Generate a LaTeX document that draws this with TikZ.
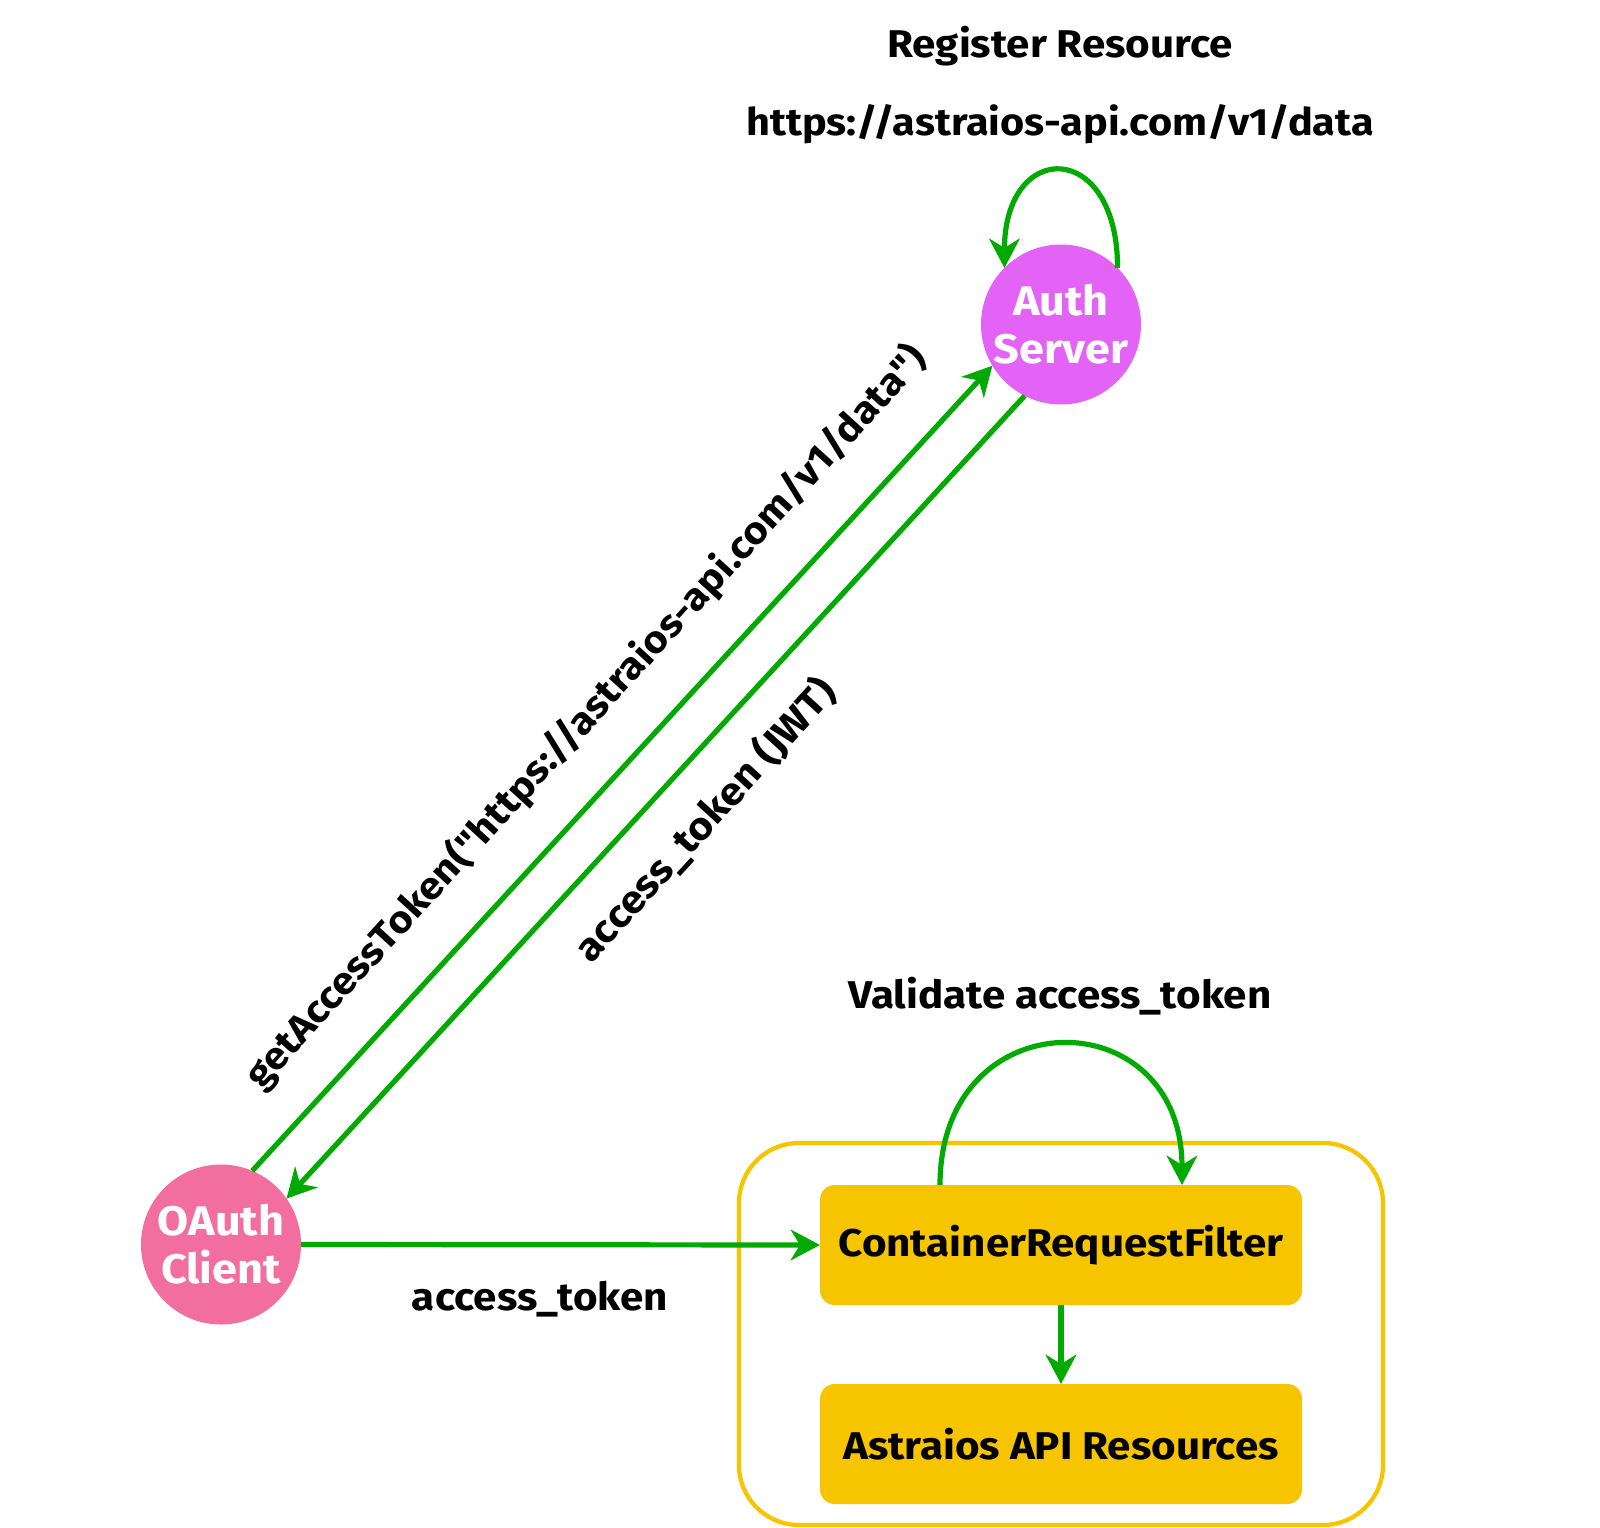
\documentclass[tikz,border=0pt]{standalone}
\usepackage{fontspec}
\newfontfamily\uf{Fira Sans}[FakeStretch=1.09]
\usetikzlibrary{arrows.meta}
\definecolor{flowgreen}{HTML}{00AA00}
\definecolor{authc}{HTML}{E263F5}
\definecolor{clientc}{HTML}{F26E9E}
\definecolor{boxc}{HTML}{F7C400}
\begin{document}
\begin{tikzpicture}[x=0.75pt,y=-0.75pt,
  txt/.style={font=\uf\fontsize{29}{36}\selectfont\bfseries, text=black, inner sep=0pt},
  circ/.style={circle, minimum size=120pt, inner sep=0pt, outer sep=0pt, align=center, text=white, font=\uf\fontsize{31}{36}\selectfont\bfseries},
  boxnode/.style={rectangle, rounded corners=11pt, fill=boxc, minimum width=361.5pt, minimum height=90pt, inner sep=0pt, outer sep=0pt, font=\uf\fontsize{29}{36}\selectfont\bfseries},
  groupbox/.style={rectangle, rounded corners=45pt, draw=boxc, line width=3.2pt, minimum width=483pt, minimum height=286.5pt, inner sep=0pt},
  flow/.style={draw=flowgreen, line width=3.9pt, -{Stealth[length=22pt,width=23pt,inset=7pt]}}
]
\useasboundingbox (0,0) rectangle (1600,1528);
\fill[white] (0,0) rectangle (1600,1528);

\node[groupbox] (grp) at (1061,1334) {};
\node[boxnode] (crf) at (1061,1245) {ContainerRequestFilter};
\node[boxnode] (api) at (1061,1444) {Astraios API Resources};

\node[circ, fill=authc] (as) at (1061,324.5) {Auth\\Server};
\node[circ, fill=clientc] (oc) at (221,1244.5) {OAuth\\Client};

\node[txt, anchor=base] (reg) at (1060,57) {Register Resource};
\node[txt, anchor=base] (url) at (1060,135) {\fontsize{28.5}{36}\selectfont https://astraios-api.com/v1/data};
\node[txt, anchor=base] (val) at (1060,1008) {Validate access\_token};
\node[txt, anchor=base] (tok) at (540,1310) {access\_token};
\node[txt, rotate=47.6] (get) at (586,717) {\fontsize{28.5}{36}\selectfont getAccessToken("https://astraios-api.com/v1/data")};
\node[txt, rotate=47.6] (jwt) at (705,820) {access\_token (JWT)};

\draw[flow] (oc.67) -- (as.211);
\draw[flow] (as.243) -- (oc.35);
\draw[flow] (oc.east) -- (crf.west);
\draw[flow] (crf.south) -- (api.north);
\draw[flow] (as.45) .. controls +(0,-129) and +(0,-129) .. (as.135);
\draw[flow] ([xshift=-90.75pt]crf.north) .. controls +(0,-187) and +(0,-187) .. ([xshift=90.75pt]crf.north);
\end{tikzpicture}
\end{document}
